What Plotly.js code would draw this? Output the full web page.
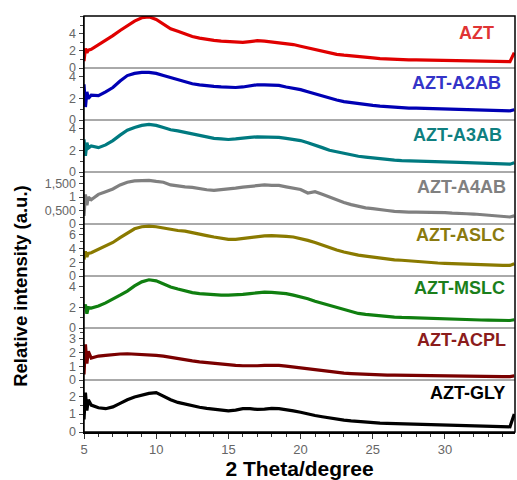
<!DOCTYPE html>
<html>
<head>
<meta charset="utf-8">
<script src="https://cdn.plot.ly/plotly-3.0.1.min.js"></script>
<style>html,body{margin:0;padding:0;background:#fff;}#chart{width:517px;height:480px;}</style>
</head>
<body>
<div id="chart"></div>
<script>
// 2-theta positions (degrees)
const twoTheta = [5.0,5.1,5.2,5.3,5.5,6.0,6.5,7.0,7.5,8.0,8.5,9.0,9.5,10.0,10.5,11.0,11.5,12.0,12.5,13.0,13.5,14.0,14.5,15.0,15.5,16.0,16.5,17.0,17.5,18.0,18.5,19.0,19.5,20.0,20.5,21.0,21.5,22.0,22.5,23.0,23.5,24.0,24.5,25.0,25.5,26.0,26.5,27.0,27.5,28.0,28.5,29.0,29.5,30.0,30.5,31.0,31.5,32.0,32.5,33.0,33.5,34.0,34.5,34.8];

const AZT  = [0.8,2.3,1.8,2.1, 2.2,2.7,3.2,3.8, 4.4,5.0,5.5,5.9, 6.0,5.7,5.1,4.6, 4.3,4.0,3.7,3.5, 3.35,3.25,3.15,3.1, 3.05,3.0,3.1,3.2, 3.15,3.05,3.0,2.9, 2.75,2.55,2.35,2.15, 1.95,1.75,1.6,1.5, 1.4,1.32,1.25,1.18, 1.1,1.05,1.0,0.98, 0.95,0.95,0.93,0.92, 0.9,0.9,0.88,0.86, 0.85,0.83,0.82,0.8, 0.78,0.76,0.75,1.8];
const A2AB = [3.3,1.2,2.6,2.0, 2.3,2.25,2.6,3.0, 3.6,4.1,4.3,4.4, 4.4,4.3,4.1,3.9, 3.75,3.55,3.35,3.25, 3.15,3.1,3.05,3.0, 3.0,3.05,3.15,3.25, 3.25,3.25,3.2,3.05, 2.95,2.8,2.6,2.4, 2.2,2.05,1.85,1.7, 1.6,1.52,1.45,1.35, 1.28,1.22,1.18,1.15, 1.1,1.1,1.08,1.06, 1.03,1.02,1.0,1.0, 0.98,0.95,0.93,0.9, 0.88,0.85,0.85,0.95];
const A3AB = [3.0,1.5,2.7,2.2, 2.4,2.25,2.5,2.9, 3.4,3.85,4.1,4.3, 4.4,4.3,4.1,3.9, 3.8,3.65,3.5,3.35, 3.2,3.1,3.05,3.0, 3.05,3.15,3.2,3.25, 3.25,3.25,3.2,3.1, 3.0,2.9,2.7,2.5, 2.25,2.0,1.85,1.7, 1.55,1.45,1.38,1.3, 1.2,1.15,1.1,1.05, 1.02,1.0,0.98,0.96, 0.93,0.92,0.9,0.88, 0.86,0.84,0.82,0.78, 0.75,0.72,0.72,0.85];
const A4AB = [0.3,1.1,0.7,1.0, 0.9,1.1,1.2,1.3, 1.45,1.55,1.6,1.6, 1.62,1.58,1.55,1.45, 1.4,1.38,1.36,1.3, 1.27,1.25,1.27,1.3, 1.33,1.37,1.4,1.43, 1.45,1.43,1.43,1.38, 1.33,1.28,1.15,1.2, 1.1,1.0,0.88,0.8, 0.72,0.66,0.6,0.57, 0.52,0.5,0.47,0.45, 0.44,0.44,0.44,0.44, 0.42,0.42,0.4,0.38, 0.38,0.37,0.35,0.33, 0.3,0.28,0.26,0.3];
const ASLC = [2.4,3.6,2.8,3.3, 3.4,3.9,4.3,4.9, 5.6,6.3,6.9,7.2, 7.3,7.2,7.0,6.8, 6.65,6.55,6.3,6.1, 5.9,5.7,5.5,5.35, 5.35,5.5,5.6,5.75, 5.85,5.9,5.9,5.8, 5.7,5.5,5.2,4.9, 4.5,4.1,3.8,3.5, 3.25,3.05,2.9,2.75, 2.6,2.45,2.35,2.3, 2.2,2.1,2.0,1.95, 1.9,1.85,1.8,1.75, 1.7,1.68,1.65,1.62, 1.58,1.56,1.55,1.8];
const MSLC = [1.9,2.3,1.4,2.0, 1.95,2.15,2.45,2.8, 3.2,3.6,4.1,4.5, 4.7,4.6,4.3,4.0, 3.8,3.6,3.45,3.35, 3.28,3.22,3.2,3.2, 3.22,3.28,3.35,3.45, 3.5,3.48,3.45,3.35, 3.2,3.05,2.85,2.6, 2.4,2.15,1.95,1.75, 1.55,1.42,1.33,1.25, 1.18,1.12,1.07,1.03, 1.0,0.97,0.95,0.93, 0.9,0.88,0.85,0.83, 0.82,0.8,0.78,0.77, 0.75,0.74,0.73,0.8];
const ACPL = [0.4,2.6,1.2,2.1, 1.6,1.75,1.8,1.87, 1.9,1.92,1.9,1.87, 1.85,1.8,1.75,1.65, 1.55,1.48,1.4,1.33, 1.27,1.2,1.15,1.1, 1.07,1.04,1.02,1.04, 1.07,1.09,1.07,1.02, 0.95,0.9,0.82,0.76, 0.68,0.6,0.55,0.5, 0.47,0.44,0.42,0.4, 0.38,0.36,0.35,0.34, 0.32,0.31,0.3,0.29, 0.28,0.27,0.26,0.25, 0.25,0.24,0.24,0.24, 0.24,0.24,0.25,0.3];
const GLY  = [0.7,2.2,1.2,1.8, 1.5,1.35,1.3,1.4, 1.6,1.8,1.95,2.05, 2.15,2.2,2.0,1.8, 1.65,1.55,1.45,1.38, 1.32,1.26,1.22,1.18, 1.22,1.3,1.3,1.26, 1.28,1.32,1.3,1.25, 1.18,1.1,1.0,0.92, 0.85,0.78,0.72,0.66, 0.62,0.58,0.55,0.52, 0.5,0.48,0.47,0.45, 0.44,0.44,0.43,0.42, 0.41,0.4,0.39,0.38, 0.36,0.34,0.32,0.3, 0.3,0.29,0.29,1.0];

const names = ["AZT","AZT-A2AB","AZT-A3AB","AZT-A4AB","AZT-ASLC","AZT-MSLC","AZT-ACPL","AZT-GLY"];
const series = [AZT, A2AB, A3AB, A4AB, ASLC, MSLC, ACPL, GLY];
const lineColors = ["#e00000","#0000b4","#007a80","#808080","#8a7a00","#107f10","#7a0000","#000000"];
const labelColors = ["#e03434","#3434c8","#0f7f80","#808080","#8a7a10","#1b7f1b","#8b1c1c","#000000"];
const yRanges = [[0,6.1],[0,4.8],[0,4.8],[0,1.93],[0,7.6],[0,5.07],[0,3.8],[0,2.9]];
const yTickVals = [[0,2,4],[0,2,4],[0,2,4],[0,0.5,1,1.5],[0,2,4,6],[0,2,4],[0,1,2,3],[0,1,2]];
const yTickText = [["0","2","4"],["0","2","4"],["0","2","4"],["0","0,500","1","1,500"],["0","2","4","6"],["0","2","4"],["0","1","2","3"],["0","1","2"]];
const yMinor = [1,1,1,0.25,1,1,0.5,0.5];
const labelX = [0.955,0.973,0.975,0.983,0.982,0.982,0.983,0.982];
const labelY = [0.96,0.839,0.714,0.589,0.474,0.346,0.221,0.094];

const n = names.length;
const h = 1/n;
const traces = [];
const layout = {
  width: 517, height: 480,
  margin: {l: 84, r: 2, t: 16, b: 48},
  paper_bgcolor: "#fff", plot_bgcolor: "#fff",
  showlegend: false,
  font: {family: "Liberation Sans, Arial, sans-serif"},
  xaxis: {
    range: [5, 34.85], anchor: "y8",
    tickmode: "array", tickvals: [5,10,15,20,25,30], ticktext: ["5","10","15","20","25","30"],
    ticks: "outside", ticklen: 5, tickwidth: 1, tickcolor: "#333",
    minor: {dtick: 1, ticks: "outside", ticklen: 3, tickcolor: "#333", showgrid: false},
    showline: true, linecolor: "#000", linewidth: 1.5, mirror: false,
    showgrid: false, zeroline: false,
    tickfont: {size: 13, color: "#666"},
    title: {text: "<b>2 Theta/degree</b>", font: {size: 21, color: "#000"}, standoff: 3}
  },
  shapes: [],
  annotations: []
};

for (let i = 0; i < n; i++) {
  const ax = i === 0 ? "y" : "y" + (i + 1);
  const axKey = i === 0 ? "yaxis" : "yaxis" + (i + 1);
  traces.push({
    x: twoTheta, y: series[i], xaxis: "x", yaxis: ax,
    type: "scatter", mode: "lines",
    line: {color: lineColors[i], width: 3.2}, name: names[i]
  });
  layout[axKey] = {
    domain: [1 - (i + 1) * h, 1 - i * h],
    range: yRanges[i], anchor: "x",
    tickmode: "array", tickvals: yTickVals[i], ticktext: yTickText[i],
    ticks: "outside", ticklen: 4, tickwidth: 1, tickcolor: "#444",
    minor: {dtick: yMinor[i], ticks: "outside", ticklen: 2.5, tickcolor: "#444", showgrid: false},
    showline: true, linecolor: "#000", linewidth: 1.5,
    showgrid: false, zeroline: false,
    tickfont: {size: 12.5, color: "#666"}
  };
  layout.annotations.push({
    xref: "paper", yref: "paper", x: labelX[i], y: labelY[i],
    xanchor: "right", yanchor: "middle", showarrow: false,
    text: "<b>" + names[i] + "</b>",
    font: {size: 18, color: labelColors[i]}
  });
  if (i > 0) {
    layout.shapes.push({
      type: "line", xref: "paper", yref: "paper",
      x0: 0, x1: 1, y0: 1 - i * h, y1: 1 - i * h,
      line: {color: "#555", width: 1}
    });
  }
}
layout.shapes.push({
  type: "rect", xref: "paper", yref: "paper", x0: 0, x1: 1, y0: 0, y1: 1,
  line: {color: "#000", width: 1.5}
});
layout.annotations.push({
  xref: "paper", yref: "paper", x: -0.148, y: 0.352,
  xanchor: "center", yanchor: "middle", showarrow: false, textangle: -90,
  text: "<b>Relative intensity (a.u.)</b>",
  font: {size: 18.5, color: "#000"}
});

Plotly.newPlot("chart", traces, layout, {displayModeBar: false, staticPlot: true});
</script>
</body>
</html>
